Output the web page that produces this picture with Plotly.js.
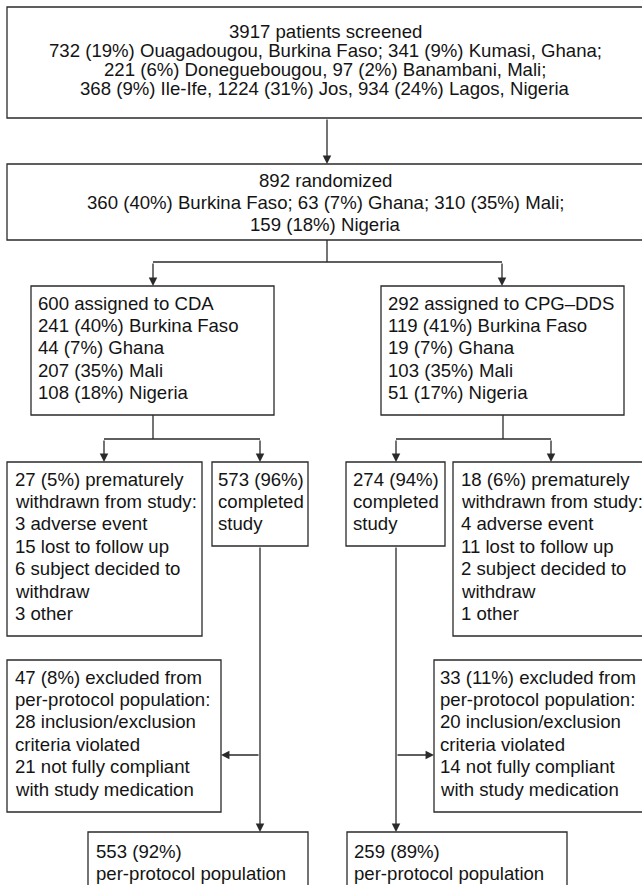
<!DOCTYPE html>
<html>
<head>
<meta charset="utf-8">
<script src="https://cdn.plot.ly/plotly-3.0.1.min.js"></script>
<style>html,body{margin:0;padding:0;background:#fff;}#chart{width:642px;height:885px;}</style>
</head>
<body>
<div id="chart"></div>
<script>
// ---- Flowchart content (text of each box, line by line) ----
const screened = ["3917 patients screened",
  "732 (19%) Ouagadougou, Burkina Faso; 341 (9%) Kumasi, Ghana;",
  "221 (6%) Doneguebougou, 97 (2%) Banambani, Mali;",
  "368 (9%) Ile-Ife, 1224 (31%) Jos, 934 (24%) Lagos, Nigeria"];
const randomized = ["892 randomized",
  "360 (40%) Burkina Faso; 63 (7%) Ghana; 310 (35%) Mali;",
  "159 (18%) Nigeria"];
const cda = ["600 assigned to CDA", "241 (40%) Burkina Faso", "44 (7%) Ghana", "207 (35%) Mali", "108 (18%) Nigeria"];
const cpg = ["292 assigned to CPG\u2013DDS", "119 (41%) Burkina Faso", "19 (7%) Ghana", "103 (35%) Mali", "51 (17%) Nigeria"];
const cdaWithdrawn = ["27 (5%) prematurely", "withdrawn from study:", "3 adverse event", "15 lost to follow up", "6 subject decided to", "withdraw", "3 other"];
const cdaCompleted = ["573 (96%)", "completed", "study"];
const cpgCompleted = ["274 (94%)", "completed", "study"];
const cpgWithdrawn = ["18 (6%) prematurely", "withdrawn from study:", "4 adverse event", "11 lost to follow up", "2 subject decided to", "withdraw", "1 other"];
const cdaExcluded = ["47 (8%) excluded from", "per-protocol population:", "28 inclusion/exclusion", "criteria violated", "21 not fully compliant", "with study medication"];
const cpgExcluded = ["33 (11%) excluded from", "per-protocol population:", "20 inclusion/exclusion", "criteria violated", "14 not fully compliant", "with study medication"];
const cdaPP = ["553 (92%)", "per-protocol population"];
const cpgPP = ["259 (89%)", "per-protocol population"];

// ---- Layout (pixel coordinates on a 642 x 885 canvas) ----
const LINE_H = 22.4;
const FONT = {family: '"Liberation Sans", Arial, Helvetica, sans-serif', size: 18.6, color: '#141414'};
const STROKE = '#2a2a2a';
const SW = 1.3;

const boxes = [
  {lines: screened,     x0: 7,   x1: 650, y0: 7,   y1: 118, tx: 325, ty: 31,  lh: 19, align: 'center'},
  {lines: randomized,   x0: 7,   x1: 650, y0: 164, y1: 240, tx: 325, ty: 180, align: 'center'},
  {lines: cda,          x0: 31,  x1: 274, y0: 286, y1: 415, tx: 37,  ty: 303, align: 'left'},
  {lines: cpg,          x0: 381, x1: 624, y0: 286, y1: 415, tx: 387, ty: 303, align: 'left'},
  {lines: cdaWithdrawn, x0: 7,   x1: 202, y0: 462, y1: 636, tx: 14,  ty: 479, align: 'left'},
  {lines: cdaCompleted, x0: 212, x1: 308, y0: 462, y1: 546, tx: 217, ty: 479, align: 'left'},
  {lines: cpgCompleted, x0: 346, x1: 445, y0: 462, y1: 546, tx: 352, ty: 479, align: 'left'},
  {lines: cpgWithdrawn, x0: 453, x1: 650, y0: 462, y1: 636, tx: 460, ty: 479, align: 'left'},
  {lines: cdaExcluded,  x0: 7,   x1: 221, y0: 660, y1: 812, tx: 14,  ty: 677, align: 'left'},
  {lines: cpgExcluded,  x0: 434, x1: 650, y0: 660, y1: 812, tx: 439, ty: 677, align: 'left'},
  {lines: cdaPP,        x0: 88,  x1: 308, y0: 832, y1: 900, tx: 95,  ty: 851, align: 'left'},
  {lines: cpgPP,        x0: 347, x1: 567, y0: 832, y1: 900, tx: 353, ty: 851, align: 'left'}
];

// plain connector segments [x0,y0,x1,y1]
const segments = [
  [327, 240, 327, 262], [153, 262, 502, 262],
  [153, 415, 153, 439], [104, 439, 260, 439],
  [503, 415, 503, 439], [396, 439, 551, 439]
];
// arrows [fromX, fromY, toX, toY]
const arrows = [
  [327, 118, 327, 164],
  [153, 262, 153, 286], [502, 262, 502, 286],
  [104, 439, 104, 462], [260, 439, 260, 462],
  [396, 439, 396, 462], [551, 439, 551, 462],
  [260, 546, 260, 832], [260, 755, 221, 755],
  [396, 546, 396, 832], [396, 755, 434, 755]
];

const shapes = [];
const annotations = [];

boxes.forEach(b => {
  const lh = b.lh || LINE_H;
  shapes.push({type: 'rect', xref: 'x', yref: 'y', x0: b.x0, x1: b.x1, y0: b.y0, y1: b.y1,
    line: {color: STROKE, width: SW}, fillcolor: 'rgba(0,0,0,0)'});
  b.lines.forEach((t, i) => {
    annotations.push({x: b.tx, y: b.ty + i * lh, xref: 'x', yref: 'y', text: t,
      showarrow: false, xanchor: b.align === 'center' ? 'center' : 'left', yanchor: 'middle',
      font: FONT, borderpad: 0});
  });
});

segments.forEach(s => {
  shapes.push({type: 'line', xref: 'x', yref: 'y', x0: s[0], y0: s[1], x1: s[2], y1: s[3],
    line: {color: STROKE, width: SW}});
});

arrows.forEach(a => {
  annotations.push({x: a[2], y: a[3], ax: a[0], ay: a[1], xref: 'x', yref: 'y', axref: 'x', ayref: 'y',
    text: '', showarrow: true, arrowhead: 2, arrowsize: 1.3, arrowwidth: SW, arrowcolor: STROKE,
    standoff: 0, startstandoff: 0});
});

const layout = {
  width: 642, height: 885,
  margin: {l: 0, r: 0, t: 0, b: 0},
  paper_bgcolor: '#fff', plot_bgcolor: '#fff',
  xaxis: {range: [0, 642], visible: false, fixedrange: true},
  yaxis: {range: [885, 0], visible: false, fixedrange: true},
  showlegend: false,
  shapes: shapes,
  annotations: annotations
};

Plotly.newPlot('chart', [], layout, {staticPlot: true, displayModeBar: false});
</script>
</body>
</html>
